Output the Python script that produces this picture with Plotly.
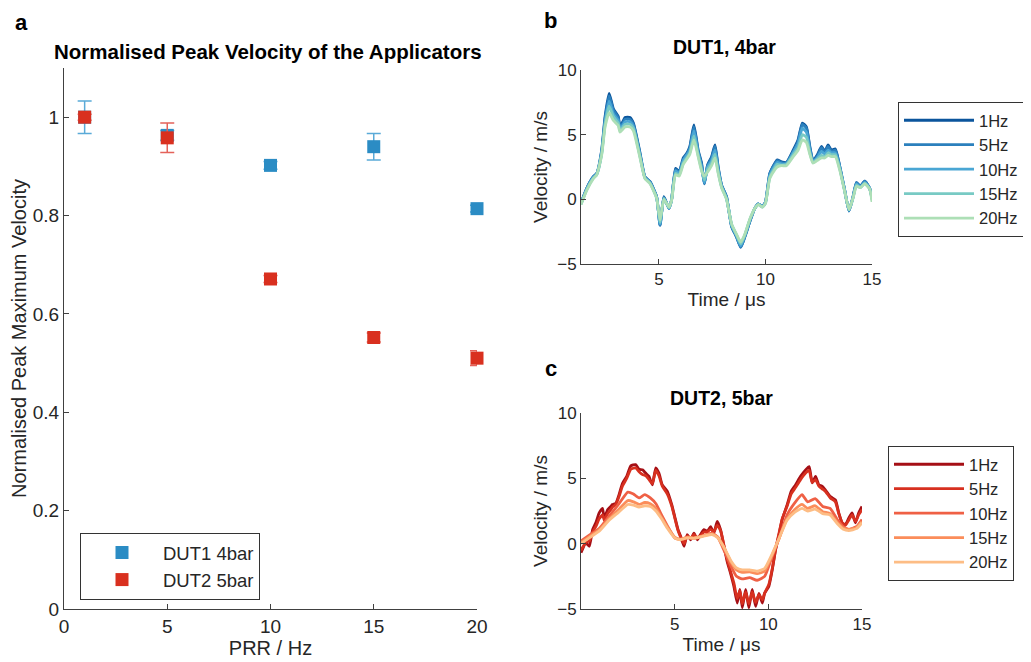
import plotly.graph_objects as go

# ---------------- Panel a data ----------------
prr = [1, 5, 10, 15, 20]
dut1_vals = [1.000, 0.963, 0.902, 0.940, 0.814]
dut1_err = [0.033, 0.010, 0.008, 0.027, 0.007]
dut2_vals = [1.000, 0.958, 0.671, 0.552, 0.510]
dut2_err = [0.006, 0.030, 0.007, 0.009, 0.015]
series_a = ["DUT1 4bar", "DUT2 5bar"]

# ---------------- Panel b data (DUT1, 4bar) ----------------
freq_labels = ["1Hz", "5Hz", "10Hz", "15Hz", "20Hz"]
t_b = [1.34, 1.61, 1.92, 2.08, 2.31, 2.47, 2.66, 2.86, 3.09, 3.17,
       3.41, 3.64, 3.80, 4.11, 4.34, 4.58, 4.89, 5.05, 5.23, 5.47,
       5.59, 5.78, 5.95, 6.14, 6.30, 6.45, 6.64, 6.84, 7.00, 7.13,
       7.28, 7.47, 7.63, 7.78, 7.94, 8.17, 8.41, 8.64, 8.84, 9.03,
       9.27, 9.50, 9.66, 9.86, 10.00, 10.20, 10.44, 10.55, 10.75, 10.98,
       11.30, 11.53, 11.73, 11.92, 12.08, 12.23, 12.42, 12.63, 12.78, 12.94,
       13.09, 13.28, 13.48, 13.72, 13.92, 14.11, 14.27, 14.45, 14.66, 14.89,
       15.00]
b_1hz = [-0.3, 0.85, 1.75, 2.0, 3.8, 6.4, 8.2, 7.0, 6.4, 5.6,
         6.34, 6.34, 5.9, 3.6, 1.75, 1.37, 0.2, -2.0, 0.2, -0.7,
         -0.05, 2.4, 2.15, 3.2, 3.55, 4.1, 5.75, 3.8, 2.8, 1.2,
         2.65, 3.3, 4.2, 2.5, 1.1, 0.2, -2.1, -2.9, -3.7, -2.9,
         -1.7, -0.7, -0.35, -0.55, -0.2, 2.0, 2.8, 3.05, 2.9, 2.85,
         3.8, 4.6, 5.9, 5.6, 4.1, 3.0, 3.4, 4.1, 3.7, 4.2,
         3.8, 3.9, 2.6, 0.7, -0.9, 0.2, 1.3, 1.0, 1.4, 0.85,
         0.2]
b_5hz = [-0.3, 0.85, 1.75, 2.0, 3.7, 6.2, 8.0, 6.9, 6.3, 5.5,
         6.2, 6.2, 5.8, 3.5, 1.7, 1.35, 0.2, -2.0, 0.15, -0.7,
         -0.05, 2.3, 2.1, 3.1, 3.5, 4.0, 5.6, 3.7, 2.7, 1.2,
         2.6, 3.2, 4.1, 2.4, 1.1, 0.2, -2.1, -2.9, -3.7, -2.9,
         -1.7, -0.7, -0.35, -0.55, -0.2, 1.95, 2.75, 3.0, 2.85, 2.8,
         3.7, 4.5, 5.8, 5.5, 4.0, 3.0, 3.3, 4.0, 3.6, 4.1,
         3.7, 3.8, 2.6, 0.7, -0.9, 0.2, 1.3, 1.0, 1.4, 0.85,
         0.15]
b_10hz = [-0.35, 0.8, 1.7, 1.95, 3.6, 6.0, 7.6, 6.6, 6.1, 5.4,
          6.0, 6.0, 5.6, 3.4, 1.7, 1.3, 0.15, -1.9, 0.1, -0.7,
          -0.05, 2.2, 2.0, 3.0, 3.4, 3.8, 5.3, 3.6, 2.5, 1.3,
          2.5, 3.0, 3.8, 2.3, 1.0, 0.1, -2.0, -2.8, -3.6, -2.8,
          -1.6, -0.7, -0.35, -0.55, -0.25, 1.85, 2.6, 2.85, 2.75, 2.75,
          3.6, 4.3, 5.5, 5.2, 3.8, 2.9, 3.2, 3.7, 3.5, 3.8,
          3.6, 3.6, 2.5, 0.65, -0.85, 0.15, 1.2, 0.95, 1.3, 0.85,
          0.05]
b_15hz = [-0.4, 0.75, 1.65, 1.9, 3.5, 5.8, 7.2, 6.4, 5.9, 5.3,
          5.8, 5.8, 5.5, 3.3, 1.65, 1.25, 0.1, -1.8, 0.05, -0.65,
          -0.1, 2.0, 1.9, 2.8, 3.2, 3.6, 4.9, 3.4, 2.3, 1.5,
          2.3, 2.8, 3.5, 2.1, 0.95, 0.05, -1.95, -2.75, -3.45, -2.75,
          -1.55, -0.7, -0.4, -0.6, -0.3, 1.7, 2.45, 2.7, 2.65, 2.7,
          3.45, 4.0, 5.0, 4.8, 3.6, 2.85, 3.1, 3.4, 3.3, 3.6,
          3.45, 3.45, 2.4, 0.6, -0.8, 0.1, 1.1, 0.9, 1.25, 0.8,
          -0.05]
b_20hz = [-0.4, 0.7, 1.6, 1.9, 3.4, 5.6, 6.7, 6.1, 5.7, 5.2,
          5.6, 5.6, 5.3, 3.2, 1.6, 1.2, 0.1, -1.6, 0.0, -0.6,
          -0.1, 1.9, 1.8, 2.7, 3.1, 3.5, 4.6, 3.3, 2.2, 1.8,
          2.1, 2.6, 3.2, 2.0, 0.9, 0.0, -1.9, -2.7, -3.3, -2.7,
          -1.5, -0.7, -0.4, -0.6, -0.3, 1.6, 2.3, 2.5, 2.6, 2.6,
          3.3, 3.8, 4.6, 4.4, 3.5, 2.8, 3.0, 3.2, 3.2, 3.4,
          3.3, 3.3, 2.3, 0.6, -0.8, 0.1, 1.0, 0.9, 1.2, 0.8,
          -0.2]

# ---------------- Panel c data (DUT2, 5bar) ----------------
t_c = [0.00, 0.26, 0.44, 0.62, 0.79, 0.97, 1.15, 1.24, 1.42, 1.59,
       1.68, 1.86, 2.03, 2.21, 2.44, 2.66, 2.92, 3.10, 3.28, 3.45,
       3.63, 3.81, 3.99, 4.16, 4.34, 4.61, 4.84, 5.00, 5.18, 5.32,
       5.50, 5.67, 5.85, 6.03, 6.21, 6.38, 6.56, 6.74, 6.92, 7.09,
       7.27, 7.45, 7.63, 7.80, 7.98, 8.16, 8.34, 8.48, 8.61, 8.79,
       8.96, 9.14, 9.32, 9.50, 9.68, 9.80, 10.03, 10.21, 10.39, 10.57,
       10.74, 11.01, 11.22, 11.45, 11.72, 11.99, 12.18, 12.34, 12.52, 12.70,
       12.87, 13.05, 13.31, 13.58, 13.76, 13.94, 14.11, 14.29, 14.47, 14.65,
       14.82, 15.00]
c_1hz = [-0.7, 0.05, -0.2, 1.07, 1.6, 2.35, 2.7, 1.95, 2.6, 2.85,
         3.0, 3.1, 3.75, 4.6, 5.15, 5.95, 6.05, 5.7, 5.65, 5.4,
         5.15, 4.5, 5.8, 5.4, 4.5, 4.0, 3.0, 2.1, 1.07, 0.56,
         -0.2, 0.7, 0.3, 0.8, 0.3, 0.7, 1.07, 0.95, 1.3, 0.8,
         1.7, 1.07, -0.2, -1.35, -2.25, -3.25, -4.55, -3.5, -4.9, -3.5,
         -4.9, -3.5, -4.8, -3.8, -4.55, -3.8, -3.25, -2.0, -0.45, 0.7,
         1.85, 3.0, 4.0, 4.5, 5.15, 5.65, 5.9, 4.65, 5.15, 4.5,
         4.4, 4.1, 3.6, 3.35, 2.35, 1.6, 1.45, 1.95, 2.35, 1.6,
         2.35, 2.85]
c_5hz = [-0.5, 0.1, 0.2, 0.9, 1.3, 1.9, 2.2, 1.8, 2.3, 2.6,
         2.8, 3.0, 3.6, 4.4, 5.0, 5.7, 5.8, 5.5, 5.3, 5.2,
         4.9, 4.6, 5.6, 5.2, 4.4, 3.8, 2.9, 2.0, 1.0, 0.5,
         0.0, 0.6, 0.4, 0.7, 0.4, 0.6, 0.9, 0.9, 1.1, 0.9,
         1.4, 1.0, -0.1, -1.2, -2.1, -3.0, -4.2, -3.6, -4.6, -3.7,
         -4.6, -3.7, -4.5, -3.9, -4.3, -3.8, -3.1, -1.9, -0.4, 0.8,
         1.9, 2.9, 3.8, 4.3, 4.9, 5.4, 5.6, 4.7, 4.9, 4.4,
         4.2, 4.0, 3.5, 3.2, 2.3, 1.6, 1.4, 1.8, 2.2, 1.7,
         2.2, 2.6]
t_cs = [0.0, 0.5, 1.0, 1.5, 2.0, 2.5, 2.8, 3.1, 3.4, 3.7,
        4.0, 4.3, 4.6, 5.0, 5.3, 5.7, 6.0, 6.5, 7.0, 7.3,
        7.6, 8.0, 8.3, 8.6, 9.0, 9.4, 9.8, 10.2, 10.6, 11.0,
        11.4, 11.8, 12.1, 12.5, 12.9, 13.3, 13.7, 14.0, 14.3, 14.7,
        15.0]
c_10hz = [0.2, 0.7, 1.2, 2.1, 3.0, 3.95, 3.8, 3.5, 3.75, 3.5,
          3.05, 2.2, 1.4, 0.45, 0.3, 0.5, 0.4, 0.6, 0.8, 0.5,
          -0.4, -1.7, -2.5, -2.7, -2.6, -2.8, -2.5, -1.0, 0.5, 2.2,
          3.1, 3.75, 3.2, 3.45, 2.85, 2.7, 1.8, 1.3, 1.1, 1.3,
          1.85]
c_15hz = [0.1, 0.6, 1.1, 1.9, 2.6, 3.3, 3.2, 3.0, 3.15, 3.05,
          2.7, 2.0, 1.3, 0.5, 0.35, 0.5, 0.45, 0.6, 0.75, 0.5,
          -0.2, -1.4, -2.0, -2.2, -2.15, -2.3, -2.1, -0.9, 0.5, 1.9,
          2.6, 3.0, 2.7, 2.9, 2.45, 2.3, 1.6, 1.2, 1.1, 1.25,
          1.7]
c_20hz = [0.0, 0.5, 1.0, 1.8, 2.4, 3.0, 2.95, 2.8, 2.9, 2.85,
          2.5, 1.9, 1.2, 0.45, 0.3, 0.45, 0.4, 0.55, 0.7, 0.45,
          -0.2, -1.3, -1.85, -2.0, -2.0, -2.1, -1.9, -0.8, 0.5, 1.8,
          2.4, 2.7, 2.5, 2.65, 2.3, 2.2, 1.5, 1.1, 1.0, 1.15,
          1.6]

# ---------------- styles ----------------
FONT = "Liberation Sans, Arial, sans-serif"
TXT = "#262626"
AX = "#404040"
blue_cols = ["#0b559c", "#2b80bd", "#4aa6d4", "#78cac4", "#addfb6"]
red_cols = ["#a50f15", "#d7301f", "#ef6045", "#fb8d5a", "#fdbd85"]
a_marker = ["#2b8cc4", "#d9301f"]
a_err = ["#5aaad8", "#e4625a"]

# page has an 8px body margin: figure is sized/positioned to compensate
OFF = 8
W, H = 1031 - OFF, 662 - OFF
def px_x(p):
    return (p - OFF) / W
def px_y(p):
    return 1 - (p - OFF) / H

fig = go.Figure()

# Panel a
for name, yv, ev, mc, ec in [(series_a[0], dut1_vals, dut1_err, a_marker[0], a_err[0]),
                              (series_a[1], dut2_vals, dut2_err, a_marker[1], a_err[1])]:
    fig.add_trace(go.Scatter(
        x=prr, y=yv, mode="markers", name=name,
        marker=dict(symbol="square", size=13, color=mc, line=dict(width=0)),
        error_y=dict(type="data", array=ev, visible=True, color=ec, thickness=1.5, width=7),
        xaxis="x", yaxis="y", cliponaxis=False, legend="legend"))

# Panel b
for lab, vals, col in zip(freq_labels, [b_1hz, b_5hz, b_10hz, b_15hz, b_20hz], blue_cols):
    fig.add_trace(go.Scatter(x=t_b, y=vals, mode="lines", name=lab,
                             line=dict(color=col, width=2.8, shape="spline", smoothing=0.5),
                             xaxis="x2", yaxis="y2", legend="legend2"))

# Panel c
for lab, tt, vals, col in zip(freq_labels, [t_c, t_c, t_cs, t_cs, t_cs],
                              [c_1hz, c_5hz, c_10hz, c_15hz, c_20hz], red_cols):
    fig.add_trace(go.Scatter(x=tt, y=vals, mode="lines", name=lab,
                             line=dict(color=col, width=2.8, shape="spline", smoothing=0.5),
                             xaxis="x3", yaxis="y3", legend="legend3"))

axis_common = dict(showline=True, linecolor=AX, linewidth=1, ticks="inside", ticklen=5,
                   tickcolor=AX, showgrid=False, zeroline=False, mirror=False, automargin=False,
                   tickfont=dict(family=FONT, size=19, color=TXT))
small_tick = dict(family=FONT, size=17, color=TXT)

fig.update_layout(
    width=W, height=H, margin=dict(l=0, r=0, t=0, b=0, autoexpand=False),
    paper_bgcolor="white", plot_bgcolor="white",
    font=dict(family=FONT, color=TXT),
    xaxis=dict(domain=[px_x(64), px_x(477)], range=[0, 20], tickvals=[0, 5, 10, 15, 20],
               title=dict(text="PRR / Hz", font=dict(size=20, family=FONT, color=TXT), standoff=5),
               anchor="y", **axis_common),
    yaxis=dict(domain=[px_y(609), px_y(68)], range=[0, 1.1], tickvals=[0, 0.2, 0.4, 0.6, 0.8, 1],
               title=dict(text="Normalised Peak Maximum Velocity", font=dict(size=20, family=FONT, color=TXT), standoff=5),
               anchor="x", **axis_common),
    xaxis2=dict(domain=[px_x(581), px_x(872)], range=[1.34, 15], tickvals=[5, 10, 15],
                title=dict(text="Time / μs", font=dict(size=19, family=FONT, color=TXT), standoff=4),
                anchor="y2", **{**axis_common, "tickfont": small_tick}),
    yaxis2=dict(domain=[px_y(264), px_y(70)], range=[-5, 10], tickvals=[-5, 0, 5, 10],
                title=dict(text="Velocity / m/s", font=dict(size=19, family=FONT, color=TXT), standoff=4),
                anchor="x2", **{**axis_common, "tickfont": small_tick}),
    xaxis3=dict(domain=[px_x(581), px_x(862)], range=[0, 15], tickvals=[5, 10, 15],
                title=dict(text="Time / μs", font=dict(size=19, family=FONT, color=TXT), standoff=4),
                anchor="y3", **{**axis_common, "tickfont": small_tick}),
    yaxis3=dict(domain=[px_y(609), px_y(413)], range=[-5, 10], tickvals=[-5, 0, 5, 10],
                title=dict(text="Velocity / m/s", font=dict(size=19, family=FONT, color=TXT), standoff=4),
                anchor="x3", **{**axis_common, "tickfont": small_tick}),
    legend=dict(x=px_x(80), y=px_y(533), xanchor="left", yanchor="top",
                bordercolor="#333333", borderwidth=1, bgcolor="white",
                font=dict(family=FONT, size=18.5, color=TXT), itemwidth=72, tracegroupgap=0),
    legend2=dict(x=px_x(898), y=px_y(102), xanchor="left", yanchor="top",
                 bordercolor="#333333", borderwidth=1, bgcolor="white",
                 font=dict(family=FONT, size=16.5, color=TXT), itemwidth=70),
    legend3=dict(x=px_x(888), y=px_y(446), xanchor="left", yanchor="top",
                 bordercolor="#333333", borderwidth=1, bgcolor="white",
                 font=dict(family=FONT, size=16.5, color=TXT), itemwidth=70),
    showlegend=True,
)

ann = [
    dict(text="<b>a</b>", x=px_x(13), y=px_y(22), size=22),
    dict(text="<b>b</b>", x=px_x(542), y=px_y(20), size=22),
    dict(text="<b>c</b>", x=px_x(543), y=px_y(368), size=22),
    dict(text="<b>Normalised Peak Velocity of the Applicators</b>", x=px_x(268), y=px_y(52), size=20.5, center=True),
    dict(text="<b>DUT1, 4bar</b>", x=px_x(724), y=px_y(47), size=19.5, center=True),
    dict(text="<b>DUT2, 5bar</b>", x=px_x(721), y=px_y(398), size=19.5, center=True),
]
for a in ann:
    fig.add_annotation(text=a["text"], x=a["x"], y=a["y"], xref="paper", yref="paper",
                       xanchor="center" if a.get("center") else "left", yanchor="middle",
                       showarrow=False, font=dict(family=FONT, size=a["size"], color="#000000"))

fig.write_html("out.html")
